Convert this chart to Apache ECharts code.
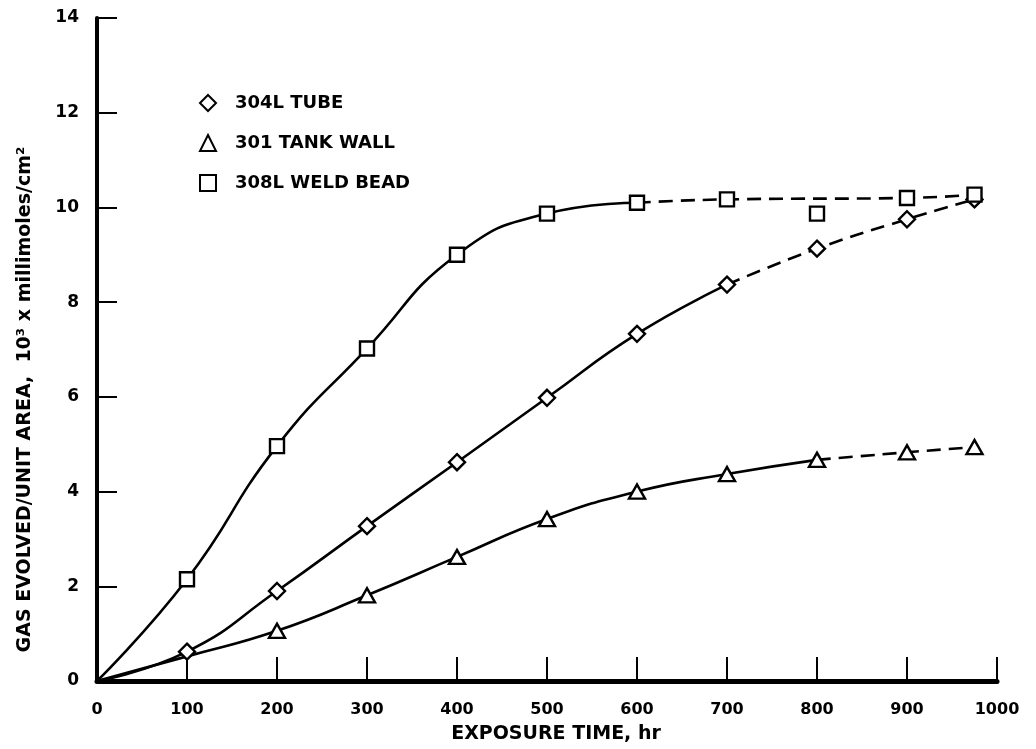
<!DOCTYPE html>
<html>
<head>
<meta charset="utf-8">
<script src="https://cdn.jsdelivr.net/npm/echarts@6/dist/echarts.min.js"></script>
<style>html,body{margin:0;padding:0;background:#fff;}#c{width:1036px;height:749px;}</style>
</head>
<body>
<div id="c"></div>
<script>
// x tick labels / axis ticks
const xTicks = [0, 100, 200, 300, 400, 500, 600, 700, 800, 900, 1000];
const yTicks = [0, 2, 4, 6, 8, 10, 12, 14];

// measured points (markers)
const tubePts = [[100, 0.62], [200, 1.9], [300, 3.27], [400, 4.62], [500, 5.98], [600, 7.33], [700, 8.37], [800, 9.13], [900, 9.75], [975, 10.17]];
const tankPts = [[200, 1.06], [300, 1.81], [400, 2.62], [500, 3.42], [600, 4.0], [700, 4.37], [800, 4.67], [900, 4.83], [975, 4.94]];
const weldPts = [[100, 2.15], [200, 4.96], [300, 7.02], [400, 9.0], [500, 9.87], [600, 10.1], [700, 10.17], [800, 9.87], [900, 10.2], [975, 10.27]];

// fitted curves: solid and dashed parts
const tubeSolid = [[0, 0], [100, 0.62], [200, 1.9], [300, 3.27], [400, 4.62], [500, 5.98], [600, 7.33], [700, 8.37]];
const tubeDash = [[700, 8.37], [800, 9.13], [900, 9.75], [975, 10.17]];
const tankSolid = [[0, 0], [100, 0.52], [200, 1.06], [300, 1.81], [400, 2.62], [500, 3.42], [600, 4.0], [700, 4.37], [800, 4.67]];
const tankDash = [[800, 4.67], [900, 4.83], [975, 4.94]];
const weldSolid = [[0, 0], [100, 2.15], [200, 4.96], [300, 7.02], [400, 9.0], [500, 9.87], [600, 10.1]];
const weldDash = [[600, 10.1], [700, 10.17], [900, 10.2], [975, 10.27]];

const names = ['304L TUBE', '301 TANK WALL', '308L WELD BEAD'];

const F = 'DejaVu Sans';
const chart = echarts.init(document.getElementById('c'));

function curve(data, dashed) {
  return {
    type: 'line', data: data, smooth: true, showSymbol: false, silent: true,
    lineStyle: { color: '#000', width: 2.6, type: dashed ? [14, 8] : 'solid' },
    z: 2
  };
}
function marks(name, data, symbol, size) {
  return {
    type: 'scatter', name: name, data: data, symbol: symbol, symbolSize: size,
    itemStyle: { color: '#fff', borderColor: '#000', borderWidth: 2.4, opacity: 1 },
    z: 5
  };
}

chart.setOption({
  animation: false,
  backgroundColor: '#fff',
  grid: { left: 97, right: 39, top: 18, bottom: 59, containLabel: false },
  legend: {
    data: names, orient: 'vertical', left: 194, top: 89,
    itemWidth: 16, itemHeight: 16, itemGap: 22,
    textStyle: { fontFamily: F, fontWeight: 'bold', fontSize: 18, color: '#000', padding: [0, 0, 0, 14] },
    selectedMode: false
  },
  xAxis: {
    type: 'value', min: 0, max: 1000, interval: 100,
    name: 'EXPOSURE TIME, hr', nameLocation: 'middle', nameGap: 44,
    nameTextStyle: { fontFamily: F, fontWeight: 'bold', fontSize: 19, color: '#000', padding: [0, 0, 0, 18] },
    axisLine: { lineStyle: { color: '#000', width: 5 } },
    axisTick: { inside: true, length: 24, lineStyle: { color: '#000', width: 2 } },
    axisLabel: { margin: 21, fontFamily: F, fontWeight: 'bold', fontSize: 16, color: '#000',
      formatter: v => xTicks.includes(v) ? String(v) : '' },
    splitLine: { show: false }
  },
  yAxis: {
    type: 'value', min: 0, max: 14, interval: 2,
    name: 'GAS EVOLVED/UNIT AREA,  10³ x millimoles/cm²', nameLocation: 'middle', nameGap: 62, nameRotate: 90,
    nameTextStyle: { fontFamily: F, fontWeight: 'bold', fontSize: 19, color: '#000', padding: [0, 100, 0, 0] },
    axisLine: { lineStyle: { color: '#000', width: 4 } },
    axisTick: { inside: true, length: 20, lineStyle: { color: '#000', width: 2 } },
    axisLabel: { margin: 18, fontFamily: F, fontWeight: 'bold', fontSize: 17, color: '#000',
      formatter: v => yTicks.includes(v) ? String(v) : '' },
    splitLine: { show: false }
  },
  series: [
    curve(tubeSolid, false), curve(tubeDash, true),
    curve(tankSolid, false), curve(tankDash, true),
    curve(weldSolid, false), curve(weldDash, true),
    marks(names[0], tubePts, 'diamond', [16, 16]),
    marks(names[1], tankPts, 'triangle', [16, 14]),
    marks(names[2], weldPts, 'rect', [14, 14])
  ]
});
</script>
</body>
</html>
